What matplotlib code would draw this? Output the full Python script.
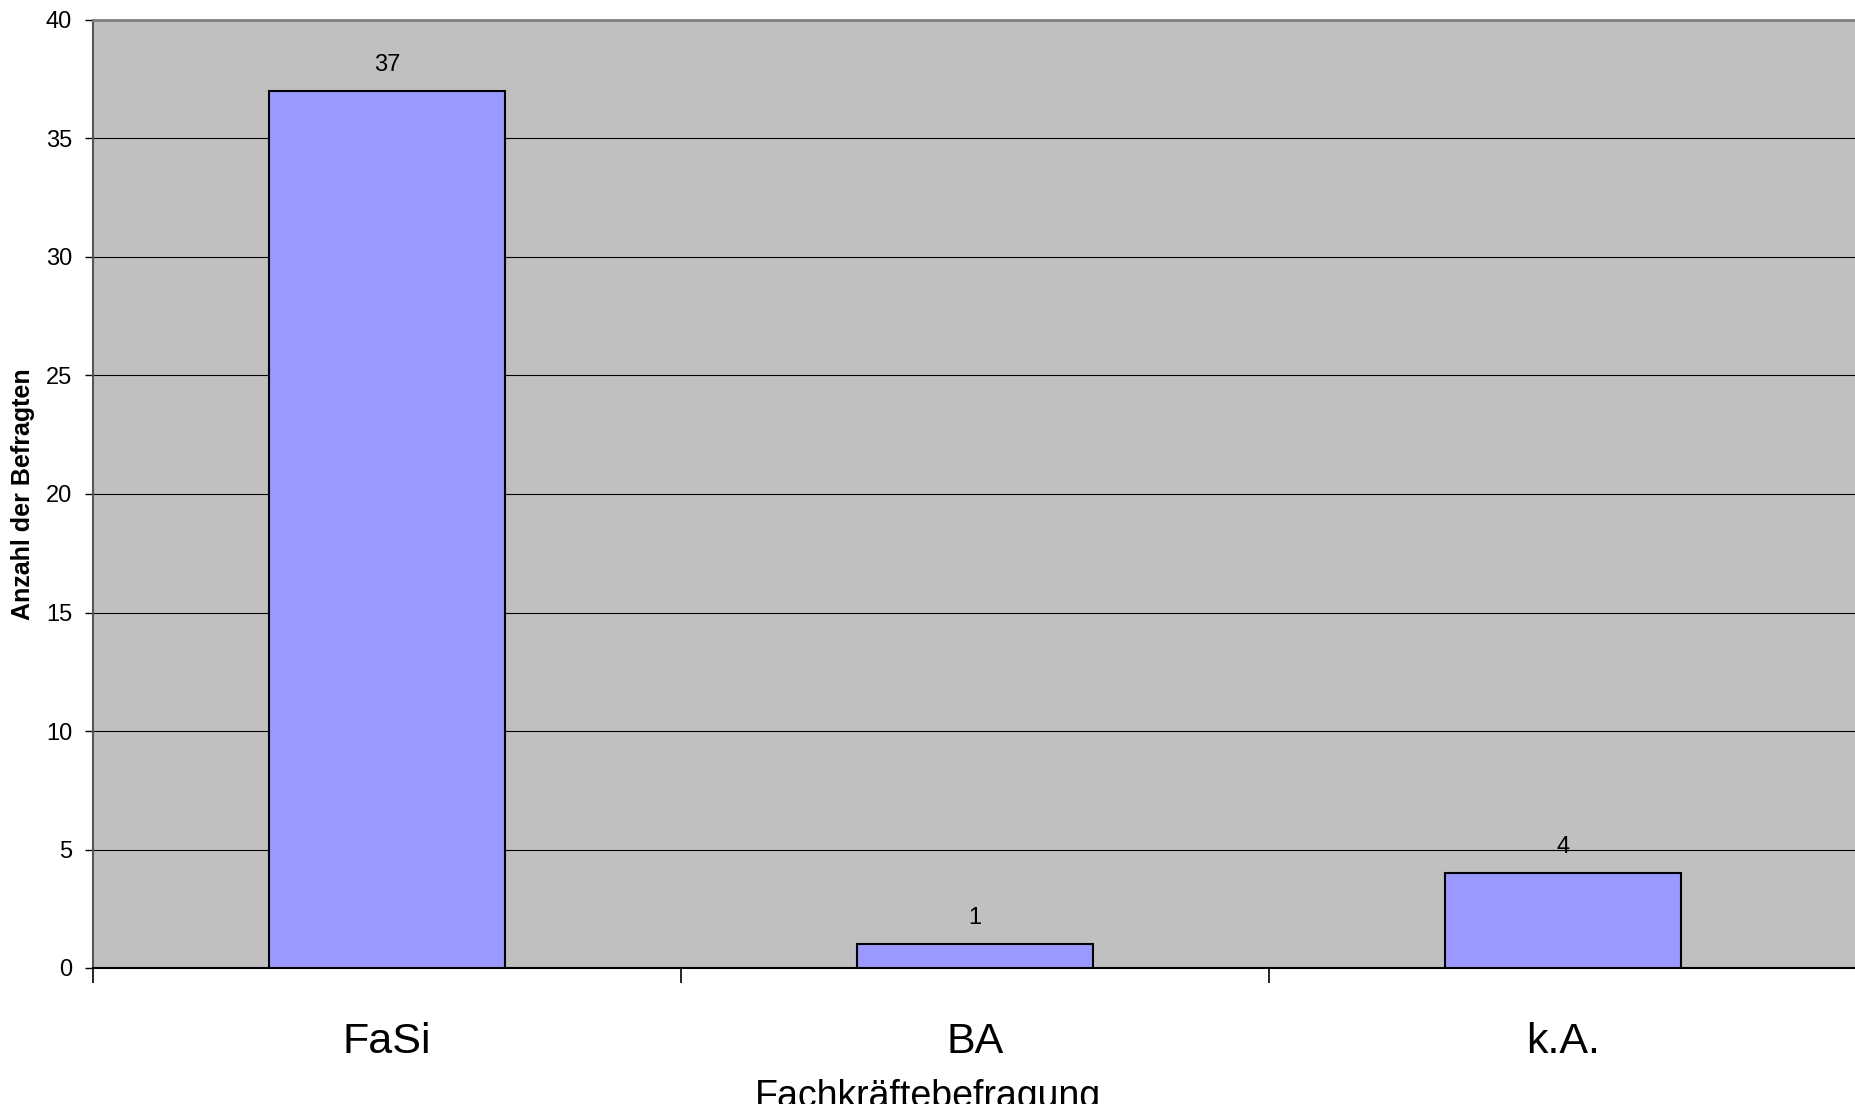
import matplotlib
matplotlib.use("Agg")
import matplotlib.pyplot as plt
import numpy as np

# Daten
kategorien = ["FaSi", "BA", "k.A."]
anzahl = [37, 1, 4]
y_ticks = [0, 5, 10, 15, 20, 25, 30, 35, 40]

plt.rcParams['font.family'] = ['Liberation Sans', 'DejaVu Sans']

W, H = 1855, 1104
fig = plt.figure(figsize=(W / 100, H / 100), dpi=100)
# Plotbereich ragt rechts etwas aus dem Bild (wie im Original)
ax = fig.add_axes([93 / W, 1 - 968 / H, 1764 / W, 948 / H])
ax.set_facecolor('#C0C0C0')

x = np.arange(len(kategorien))
bars = ax.bar(x, anzahl, width=0.4, color='#9999FF', edgecolor='black',
              linewidth=1.5, zorder=3)

ax.set_xlim(-0.5, len(kategorien) - 0.5)
ax.set_ylim(0, 40)
ax.set_yticks(y_ticks)
ax.yaxis.grid(True, color='black', linewidth=0.8, zorder=1)
ax.set_axisbelow(True)

# Kategorien mittig, Striche an den Grenzen
ax.set_xticks(x)
ax.set_xticklabels(kategorien, fontsize=31)
ax.tick_params(axis='x', which='major', length=0, pad=39)
ax.set_xticks(np.arange(len(kategorien)) - 0.5, minor=True)
ax.tick_params(axis='x', which='minor', length=11, width=1.2, color='black',
               direction='out')
ax.tick_params(axis='y', labelsize=17, length=6, width=1.0, pad=9,
               direction='out')

ax.spines['top'].set_color('#808080')
ax.spines['top'].set_linewidth(2)
ax.spines['right'].set_visible(False)
ax.spines['left'].set_color('#555555')
ax.spines['left'].set_linewidth(1.5)
ax.spines['bottom'].set_color('black')
ax.spines['bottom'].set_linewidth(1.5)

# Werte über den Balken
for xi, val in zip(x, anzahl):
    ax.annotate(str(val), (xi, val), xytext=(0, 19), textcoords='offset points',
                ha='center', va='center', fontsize=17)

ax.set_ylabel("Anzahl der Befragten", fontsize=18, fontweight='bold')
ax.yaxis.set_label_coords(-0.033, 0.5)
fig.text(0.5, 1 - 1079 / H, "Fachkräftebefragung", ha='center', va='top',
         fontsize=27)

fig.savefig("out.png", dpi=100)
